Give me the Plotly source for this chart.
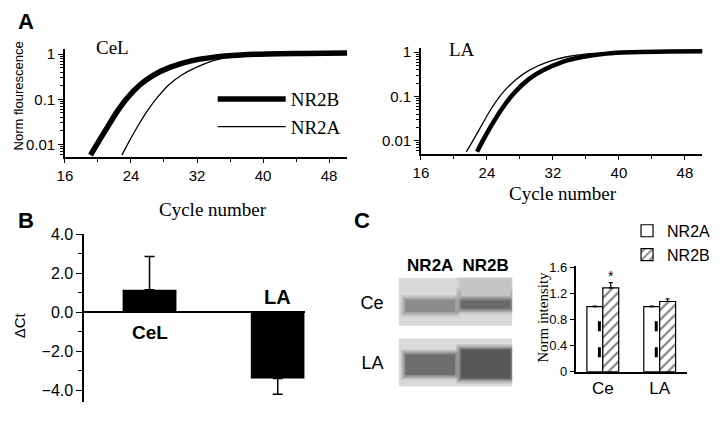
import plotly.graph_objects as go

W, H = 720, 421
SANS = "Liberation Sans, Arial, sans-serif"
SERIF = "Liberation Serif, Times New Roman, serif"

# ---------------- Panel A data (cycle number, normalized fluorescence) ----------------
cel_nr2b_cycle = [19.1, 20.0, 21.2, 22.4, 23.6, 25.1, 26.7, 28.7, 31.3, 34.1, 37.3, 40.5, 45.0, 50.2]
cel_nr2b_fluor = [0.0058, 0.011, 0.025, 0.056, 0.11, 0.21, 0.34, 0.51, 0.71, 0.86, 0.96, 1.01, 1.04, 1.06]
cel_nr2a_cycle = [22.9, 23.7, 24.8, 26.0, 27.2, 28.6, 30.1, 31.9, 33.9, 35.7, 37.6, 40.5, 45.0, 50.2]
cel_nr2a_fluor = [0.0058, 0.011, 0.025, 0.056, 0.11, 0.21, 0.34, 0.51, 0.71, 0.86, 0.95, 1.01, 1.04, 1.06]
la_nr2a_cycle = [21.5, 22.3, 23.4, 24.5, 25.9, 27.5, 29.1, 31.3, 33.7, 36.5, 39.7, 45.0, 50.2]
la_nr2a_fluor = [0.0056, 0.010, 0.023, 0.052, 0.12, 0.24, 0.39, 0.60, 0.79, 0.93, 1.0, 1.04, 1.05]
la_nr2b_cycle = [22.8, 23.5, 24.6, 25.8, 27.3, 29.0, 30.8, 33.1, 35.7, 38.5, 41.7, 46.0, 50.2]
la_nr2b_fluor = [0.0056, 0.010, 0.023, 0.052, 0.12, 0.24, 0.39, 0.60, 0.79, 0.93, 1.0, 1.04, 1.05]
a_xticks = [16, 24, 32, 40, 48]
a_xminor = [20, 28, 36, 44]
a_yticks = [0.01, 0.1, 1]
a_yticktext = ["0.01", "0.1", "1"]

# ---------------- Panel B data ----------------
b_regions = ["CeL", "LA"]
b_dct = [1.15, -3.4]
b_err_up = [1.7, 0.0]
b_err_down = [0.0, 0.8]
b_yticks = [-4, -2, 0, 2, 4]
b_yminor = [-3, -1, 1, 3]

# ---------------- Panel C data ----------------
c_regions = ["Ce", "LA"]
c_pos = [0, 1]
c_nr2a = [1.0, 1.0]
c_nr2a_err = [0.01, 0.01]
c_nr2b = [1.29, 1.08]
c_nr2b_err = [0.08, 0.04]
c_yticks = [0, 0.4, 0.8, 1.2, 1.6]
c_yticktext = ["0", "0.4", "0.8", "1.2", "1.6"]

# gel (rows x lanes) band description
gel_lanes = ["NR2A", "NR2B"]
gel_rows = ["Ce", "LA"]
band_row = [0, 0, 1, 1, 0]
band_lane = [0, 1, 0, 1, 1]
band_center = [0.06, -0.02, 0.03, 0.02, -0.24]
band_half = [0.10, 0.13, 0.17, 0.24, 0.14]
band_gray = [140, 105, 110, 88, 196]


def dx(a, b):
    return [a / W, b / W]


def dy(top, bottom):
    return [1 - bottom / H, 1 - top / H]


fig = go.Figure()

# ---- Panel A traces
fig.add_trace(go.Scatter(x=cel_nr2b_cycle, y=cel_nr2b_fluor, mode="lines", name="NR2B",
                         line=dict(color="black", width=5.5, shape="spline", smoothing=1.0),
                         xaxis="x", yaxis="y", legendgroup="b"))
fig.add_trace(go.Scatter(x=cel_nr2a_cycle, y=cel_nr2a_fluor, mode="lines", name="NR2A",
                         line=dict(color="black", width=1.3, shape="spline", smoothing=1.0),
                         xaxis="x", yaxis="y", legendgroup="a"))
fig.add_trace(go.Scatter(x=la_nr2b_cycle, y=la_nr2b_fluor, mode="lines", name="NR2B",
                         line=dict(color="black", width=4.5, shape="spline", smoothing=1.0),
                         xaxis="x2", yaxis="y2", showlegend=False))
fig.add_trace(go.Scatter(x=la_nr2a_cycle, y=la_nr2a_fluor, mode="lines", name="NR2A",
                         line=dict(color="black", width=1.3, shape="spline", smoothing=1.0),
                         xaxis="x2", yaxis="y2", showlegend=False))

# ---- Panel B
fig.add_trace(go.Bar(x=b_regions, y=b_dct, width=0.42, marker=dict(color="black", line=dict(width=0)),
                     error_y=dict(type="data", symmetric=False, array=b_err_up, arrayminus=b_err_down,
                                  color="black", thickness=1.5, width=5),
                     xaxis="x3", yaxis="y3", showlegend=False))

# ---- Panel C bars
fig.add_trace(go.Bar(x=c_pos, y=c_nr2a, name="NR2A", offset=-0.28, width=0.28,
                     marker=dict(color="white", line=dict(color="black", width=1.2)),
                     error_y=dict(type="data", symmetric=False, array=c_nr2a_err, arrayminus=[0, 0],
                                  color="black", thickness=1.2, width=2),
                     xaxis="x5", yaxis="y5", legend="legend2", legendgroup="c1"))
fig.add_trace(go.Bar(x=c_pos, y=c_nr2b, name="NR2B", offset=0.0, width=0.28,
                     marker=dict(color="white", line=dict(color="black", width=1.2),
                                 pattern=dict(shape="/", fgcolor="black", bgcolor="white", size=7, solidity=0.3)),
                     error_y=dict(type="data", symmetric=False, array=c_nr2b_err, arrayminus=[0, 0],
                                  color="black", thickness=1.2, width=2),
                     xaxis="x5", yaxis="y5", legend="legend2", legendgroup="c2"))
# dashed marks inside the NR2A bars (line starts just below the axis so the dash phase matches)
for p, v in zip(c_pos, c_nr2a):
    fig.add_trace(go.Scatter(x=[p - 0.06, p - 0.06], y=[-0.18, v], mode="lines",
                             line=dict(color="black", width=3, dash="10px,16px"),
                             xaxis="x5", yaxis="y5", showlegend=False, hoverinfo="skip"))

# ---- gel shapes
shapes = []
for r in range(len(gel_rows)):
    shapes.append(dict(type="rect", xref="x4", yref="y4", x0=-0.57, x1=1.48, y0=r - 0.40, y1=r + 0.39,
                       fillcolor="#d9d9d9", line=dict(width=0), layer="below"))
for r, l, c, h, g in zip(band_row, band_lane, band_center, band_half, band_gray):
    col = f"rgb({g},{g},{g})"
    for grow, op in [(0.08, 0.2), (0.05, 0.3), (0.025, 0.45), (0.0, 1.0)]:
        shapes.append(dict(type="rect", xref="x4", yref="y4",
                           x0=l - 0.45 - grow, x1=l + 0.45 + grow,
                           y0=r + c - h - grow, y1=r + c + h + grow,
                           fillcolor=col, opacity=op, line=dict(width=0), layer="below"))

ann = []


def add_text(text, x, y, size, family=SANS, bold=False, xanchor="center", yanchor="middle", angle=0):
    ann.append(dict(text=f"<b>{text}</b>" if bold else text, x=x / W, y=1 - y / H, xref="paper", yref="paper",
                    showarrow=False, xanchor=xanchor, yanchor=yanchor, textangle=angle,
                    font=dict(family=family, size=size, color="black")))


add_text("A", 8, 14, 22, bold=True, xanchor="left")
add_text("B", 8, 221, 22, bold=True, xanchor="left")
add_text("C", 348, 221, 22, bold=True, xanchor="left")
add_text("CeL", 87, 41, 19, family=SERIF, xanchor="left")
add_text("LA", 444, 43, 19, family=SERIF, xanchor="left")
add_text("Norm flourescence", 11, 91, 13, angle=-90)
add_text("Cycle number", 207, 209, 19, family=SERIF)
add_text("Cycle number", 561, 193, 19, family=SERIF)
add_text("ΔCt", 12, 330, 15, angle=-90)
add_text("Norm intensity", 541, 321, 15, family=SERIF, angle=-90)
ann.append(dict(text="<b>CeL</b>", x="CeL", y=-1.05, xref="x3", yref="y3", showarrow=False,
                font=dict(family=SANS, size=19, color="black")))
ann.append(dict(text="<b>LA</b>", x="LA", y=0.8, xref="x3", yref="y3", showarrow=False,
                font=dict(family=SANS, size=20, color="black")))
ann.append(dict(text="*", x=c_pos[0] + 0.14, y=1.47, xref="x5", yref="y5", showarrow=False,
                font=dict(family=SANS, size=14, color="black")))

axis_common = dict(showgrid=False, zeroline=False, linecolor="black", linewidth=1.5,
                   tickcolor="black", tickfont=dict(family=SANS, size=15, color="black"))

minor_log = [v * m for v in [0.001, 0.01, 0.1] for m in range(2, 10)]

fig.update_layout(
    width=W, height=H, margin=dict(l=0, r=0, t=0, b=0),
    paper_bgcolor="white", plot_bgcolor="white",
    barmode="overlay",
    showlegend=True,
    xaxis=dict(domain=dx(57.6, 343), range=[16, 50.2], anchor="y", showline=True, ticks="outside", ticklen=4,
               tickvals=a_xticks, minor=dict(ticks="outside", ticklen=3, tickvals=a_xminor),
               **axis_common),
    yaxis=dict(domain=dy(43, 155), type="log", range=[-2.28, 0.106], anchor="x", showline=True,
               ticks="outside", ticklen=5, tickvals=a_yticks, ticktext=a_yticktext,
               minor=dict(ticks="outside", ticklen=3, tickvals=minor_log), **axis_common),
    xaxis2=dict(domain=dx(417.6, 702), range=[16, 50.1], anchor="y2", showline=True, ticks="outside", ticklen=4,
                tickvals=a_xticks, minor=dict(ticks="outside", ticklen=3, tickvals=a_xminor),
                **axis_common),
    yaxis2=dict(domain=dy(41.7, 151.7), type="log", range=[-2.30, 0.093], anchor="x2", showline=True,
                ticks="outside", ticklen=5, tickvals=a_yticks, ticktext=a_yticktext,
                minor=dict(ticks="outside", ticklen=3, tickvals=minor_log), **axis_common),
    xaxis3=dict(domain=dx(77, 300), range=[-0.51, 1.21], anchor="y3", showline=False, showticklabels=False,
                ticks="", showgrid=False, zeroline=False),
    yaxis3=dict(domain=dy(235, 410), range=[-4.62, 4.0], anchor="x3", showline=True, ticks="outside",
                ticklen=6, tickvals=b_yticks, tickformat=".1f",
                minor=dict(ticks="outside", ticklen=4, tickvals=b_yminor),
                showgrid=False, zeroline=True, zerolinecolor="black", zerolinewidth=1.5,
                linecolor="black", linewidth=1.5, tickcolor="black",
                tickfont=dict(family=SANS, size=16, color="black")),
    xaxis4=dict(domain=dx(395, 510), range=[-0.57, 1.48], anchor="y4", side="top", showline=False,
                tickvals=[0, 1], ticktext=[f"<b>{t}</b>" for t in gel_lanes], ticks="", showgrid=False,
                zeroline=False, ticklabelstandoff=2, tickfont=dict(family=SANS, size=17, color="black")),
    yaxis4=dict(domain=dy(280, 394), range=[1.40, -0.41], anchor="x4", showline=False,
                tickvals=[0, 1], ticktext=gel_rows, ticks="", showgrid=False, zeroline=False,
                ticklabelstandoff=14, tickfont=dict(family=SANS, size=18, color="black")),
    xaxis5=dict(domain=dx(574, 687), range=[-0.478, 1.487], anchor="y5", showline=True, ticks="",
                tickvals=c_pos, ticktext=c_regions, showgrid=False, zeroline=False,
                linecolor="black", linewidth=1.5, tickfont=dict(family=SANS, size=17, color="black")),
    yaxis5=dict(domain=dy(268, 378), range=[0, 1.63], anchor="x5", showline=True, ticks="outside",
                ticklen=4, tickvals=c_yticks, ticktext=c_yticktext, showgrid=False, zeroline=False,
                linecolor="black", linewidth=1.5, tickcolor="black",
                tickfont=dict(family=SANS, size=13, color="black")),
    legend=dict(x=207 / W, y=1 - 75 / H, xanchor="left", yanchor="top", bgcolor="rgba(0,0,0,0)",
                font=dict(family=SERIF, size=19, color="black"), itemwidth=68, tracegroupgap=4,
                traceorder="normal"),
    legend2=dict(x=626 / W, y=1 - 214 / H, xanchor="left", yanchor="top", bgcolor="rgba(0,0,0,0)",
                 font=dict(family=SANS, size=16, color="black"), tracegroupgap=7, traceorder="normal",
                 itemwidth=30),
    shapes=shapes,
    annotations=ann,
)

fig.write_html("out.html", config={"displayModeBar": False},
               post_script="document.body.style.margin='0';document.body.style.padding='0';")
